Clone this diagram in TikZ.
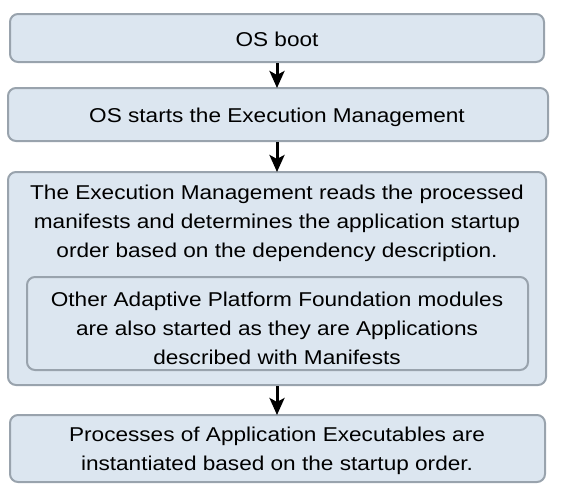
\documentclass[tikz,border=0pt]{standalone}
\usepackage{fontspec}
\setmainfont[FakeStretch=1.13]{Liberation Sans}
\usetikzlibrary{arrows.meta}
\definecolor{boxfill}{HTML}{DCE6F0}
\definecolor{boxline}{HTML}{99A3AD}
\begin{document}
\begin{tikzpicture}[x=1pt,y=-1pt,
  box/.style={draw=boxline,fill=boxfill,line width=2pt,rounded corners=8pt,inner sep=0pt},
  txt/.style={align=center,font=\fontsize{20}{29}\selectfont,inner sep=0pt},
  flow/.style={line width=3pt,-{Stealth[length=17pt,width=15pt,inset=4pt]},shorten >=-1pt}]
\useasboundingbox (0,0) rectangle (562,493);
\node[box,minimum width=534pt,minimum height=48pt] (b1) at (277,38) {};
\node[txt] (t1) at (277,39.5) {OS boot};
\node[box,minimum width=540pt,minimum height=53pt] (b2) at (278,114.5) {};
\node[txt] (t2) at (277,117) {OS starts the Execution Management};
\node[box,minimum width=538pt,minimum height=213pt] (b3) at (277,278.5) {};
\node[txt] (t3) at (277,223.5) {The Execution Management reads the processed\\manifests and determines the application startup\\order based on the dependency description.};
\node[box,minimum width=501pt,minimum height=93pt] (b3i) at (277.5,323.5) {};
\node[txt] (t3i) at (277,328) {Other Adaptive Platform Foundation modules\\are also started as they are Applications\\described with Manifests};
\node[box,minimum width=535pt,minimum height=67pt] (b4) at (277.5,448.5) {};
\node[txt] (t4) at (277,451) {Processes of Application Executables are\\instantiated based on the startup order.};
\draw[flow] (b1.south -| 277,0) -- (b2.north -| 277,0);
\draw[flow] (b2.south -| 277,0) -- (b3.north -| 277,0);
\draw[flow] (b3.south -| 277,0) -- (b4.north -| 277,0);
\end{tikzpicture}
\end{document}
